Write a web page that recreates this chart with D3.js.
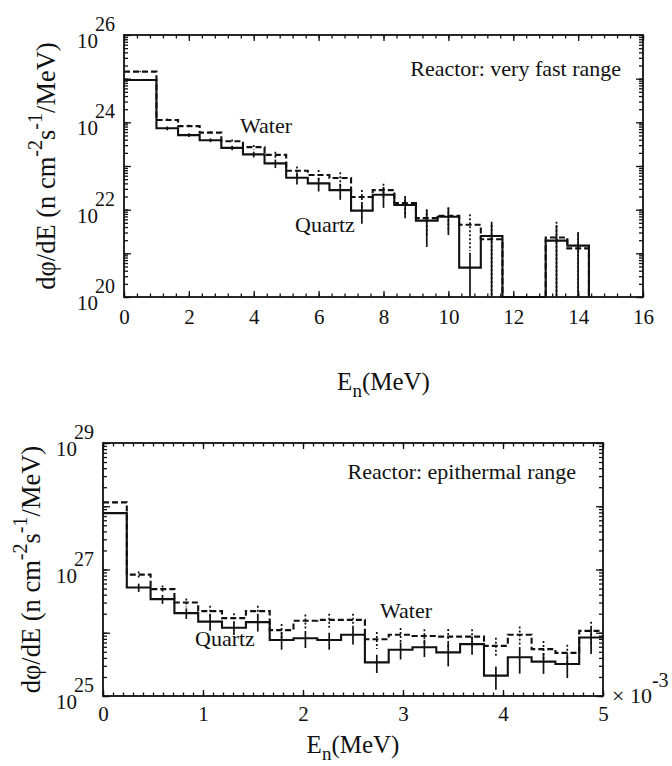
<!DOCTYPE html>
<html>
<head>
<meta charset="utf-8">
<script src="https://cdn.jsdelivr.net/npm/d3@7"></script>
<style>
  body { margin: 0; background: #fff; }
  svg text { font-family: "Liberation Serif", "Times New Roman", serif; fill: #111; }
</style>
</head>
<body>
<svg></svg>
<script>
// ---- very fast range (MeV) ----
const fastEdges = [0, 1, 1.667, 2.333, 3, 3.667, 4.333, 5, 5.667, 6.333, 7, 7.667,
  8.333, 9, 9.667, 10.333, 11, 11.667, 13, 13.667, 14.333];
const fastQuartz = [9.3e24, 7.3e23, 5.1e23, 3.9e23, 2.6e23, 1.85e23, 1.15e23, 5.4e22,
  4.0e22, 2.8e22, 9.5e21, 2.2e22, 1.28e22, 5.6e21, 6.9e21, 4.7e20, 2.5e21, null, 1.95e21, 1.5e21];
const fastWater = [1.45e25, 1.13e24, 8.2e23, 5.8e23, 3.7e23, 2.7e23, 1.8e23, 7.8e22,
  6.2e22, 5.3e22, 1.95e22, 2.8e22, 1.42e22, 6.4e21, 7.2e21, 4.5e21, 2.1e21, null, 2.3e21, 1.3e21];
// relative errors (sigma / value)
const fastQuartzErr = [0.04, 0.1, 0.1, 0.1, 0.12, 0.15, 0.22, 0.3, 0.35, 0.4, 0.5, 0.5,
  0.5, 0.75, 0.62, 1.2, 1.12, null, 1.29, 1.06];
const fastWaterErr = [0.03, 0.08, 0.08, 0.08, 0.1, 0.12, 0.18, 0.25, 0.3, 0.35, 0.45, 0.4,
  0.45, 0.6, 0.55, 0.75, 1.1, null, 1.3, 1.1];
const fastXMajor = [0, 2, 4, 6, 8, 10, 12, 14, 16];
const fastYLabels = [1e20, 1e22, 1e24, 1e26];

// ---- epithermal range (x 10^-3 MeV) ----
const epiEdges = [0, 0.238, 0.476, 0.714, 0.952, 1.19, 1.429, 1.667, 1.905, 2.143, 2.381,
  2.619, 2.857, 3.095, 3.333, 3.571, 3.81, 4.048, 4.286, 4.524, 4.762, 5];
const epiQuartz = [7.8e27, 5.2e26, 3.4e26, 2.04e26, 1.5e26, 1.2e26, 1.47e26, 7.7e25, 8.2e25,
  7.7e25, 9.3e25, 3.4e25, 5.4e25, 5.9e25, 4.9e25, 6.6e25, 2.1e25, 4.1e25, 3.5e25, 3.2e25, 8.4e25];
const epiWater = [1.15e28, 8.3e26, 4.9e26, 3.0e26, 2.2e26, 1.7e26, 2.2e26, 1.1e26, 1.55e26,
  1.6e26, 1.6e26, 7.9e25, 9.3e25, 8.9e25, 8.7e25, 8.7e25, 6.2e25, 9.3e25, 5.5e25, 4.8e25, 1.07e26];
const epiQuartzErr = [0.03, 0.15, 0.16, 0.19, 0.28, 0.23, 0.29, 0.3, 0.3, 0.3, 0.3, 0.32,
  0.3, 0.3, 0.4, 0.32, 0.4, 0.45, 0.36, 0.4, 0.45];
const epiWaterErr = [0.03, 0.12, 0.14, 0.16, 0.22, 0.2, 0.22, 0.25, 0.25, 0.25, 0.25, 0.3,
  0.28, 0.28, 0.32, 0.3, 0.35, 0.35, 0.35, 0.35, 0.4];
const epiXMajor = [0, 1, 2, 3, 4, 5];
const epiYLabels = [1e25, 1e27, 1e29];

const svg = d3.select("svg").attr("width", 672).attr("height", 766);

const drawPanel = (p) => {
  const w = p.width, h = p.height;
  const g = svg.append("g").attr("transform", `translate(${p.left}, ${p.top})`);

  const x = d3.scaleLinear().domain(p.xDomain).range([0, w]);
  const y = d3.scaleLog().domain(p.yDomain).range([h, 0]).clamp(true);
  const floor = p.yDomain[0];

  // ticks, all pointing inwards
  const xMinor = d3.range(p.xDomain[0], p.xDomain[1] + 1e-9, p.xMinorStep);
  const yMinor = y.ticks();
  const yDecades = yMinor.filter((d) => Math.abs(Math.log10(d) - Math.round(Math.log10(d))) < 1e-6);

  const addAxis = (axis, tr) => {
    const a = g.append("g").attr("transform", tr).call(axis);
    a.select(".domain").remove();
    a.selectAll("line").attr("stroke", "#111").attr("stroke-width", 1.3);
    return a;
  };
  addAxis(d3.axisBottom(x).tickValues(xMinor).tickSize(-3.5).tickFormat(""), `translate(0, ${h})`);
  addAxis(d3.axisTop(x).tickValues(xMinor).tickSize(-3.5).tickFormat(""), "translate(0, 0)");
  addAxis(d3.axisTop(x).tickValues(p.xMajor).tickSize(-6).tickFormat(""), "translate(0, 0)");
  const xa = addAxis(d3.axisBottom(x).tickValues(p.xMajor).tickSize(-6).tickPadding(p.xLabelPad)
    .tickFormat(d3.format("d")), `translate(0, ${h})`);
  xa.selectAll("text").attr("font-size", 21).attr("fill", "#111")
    .style("font-family", '"Liberation Serif", serif');

  addAxis(d3.axisLeft(y).tickValues(yMinor).tickSize(-4).tickFormat(""), "translate(0, 0)");
  addAxis(d3.axisLeft(y).tickValues(yDecades).tickSize(-7).tickFormat(""), "translate(0, 0)");
  addAxis(d3.axisRight(y).tickValues(yMinor).tickSize(-4).tickFormat(""), `translate(${w}, 0)`);
  addAxis(d3.axisRight(y).tickValues(yDecades).tickSize(-7).tickFormat(""), `translate(${w}, 0)`);

  // y labels 10^n
  const yl = g.selectAll(".ylab").data(p.yLabels).join("g").attr("class", "ylab");
  yl.append("text").attr("x", -26).attr("y", (d) => y(d) + 13)
    .attr("text-anchor", "end").attr("font-size", 21).text("10");
  yl.append("text").attr("x", -29).attr("y", (d) => y(d) - 4)
    .attr("font-size", 20).text((d) => Math.round(Math.log10(d)));

  // frame
  g.append("rect").attr("width", w).attr("height", h)
    .attr("fill", "none").attr("stroke", "#111").attr("stroke-width", 1.8);

  // histograms
  const stepLine = d3.line()
    .x((d) => x(d[0]))
    .y((d) => y(d[1] == null ? floor : d[1]))
    .curve(d3.curveStepAfter);

  const series = [
    { vals: p.water, err: p.waterErr, dash: "6,3", bar: "2,2" },
    { vals: p.quartz, err: p.quartzErr, dash: null, bar: null },
  ];

  series.forEach((s) => {
    const pts = s.vals.map((v, i) => [p.edges[i], v]);
    const last = s.vals.length;
    pts.push([p.edges[last], s.vals[last - 1]]);
    if (p.dropEnd) pts.push([p.edges[last], null]);

    g.append("path").attr("d", stepLine(pts))
      .attr("fill", "none").attr("stroke", "#111").attr("stroke-width", 2.1)
      .attr("stroke-dasharray", s.dash);

    const bars = s.vals.map((v, i) => ({ v, r: s.err[i], xm: (p.edges[i] + p.edges[i + 1]) / 2 }))
      .filter((d) => d.v != null);
    g.append("g").selectAll("line").data(bars).join("line")
      .attr("x1", (d) => x(d.xm)).attr("x2", (d) => x(d.xm))
      .attr("y1", (d) => y(d.v * (1 + d.r)))
      .attr("y2", (d) => y(d.r >= 1 ? floor : d.v * (1 - d.r)))
      .attr("stroke", "#111").attr("stroke-width", 1.7)
      .attr("stroke-dasharray", s.bar);
  });

  // annotations
  p.notes.forEach((n) => {
    g.append("text").attr("x", n.x).attr("y", n.y).attr("font-size", 22)
      .attr("text-anchor", n.anchor || "start").text(n.text);
  });

  // x title
  const xt = g.append("text").attr("x", w / 2).attr("y", h + p.xTitleOff)
    .attr("text-anchor", "middle").attr("font-size", 25);
  xt.append("tspan").text("E");
  xt.append("tspan").attr("font-size", 19).attr("dy", 7).text("n");
  xt.append("tspan").attr("dy", -7).text("(MeV)");

  // y title
  const yt = g.append("text")
    .attr("transform", `translate(${p.yTitleX}, ${h / 2}) rotate(-90)`)
    .attr("text-anchor", "middle").attr("font-size", 26.5);
  yt.append("tspan").text("d\u03c6/dE (n cm");
  yt.append("tspan").attr("font-size", 20).attr("dy", -13).text("-2");
  yt.append("tspan").attr("dy", 13).text("s");
  yt.append("tspan").attr("font-size", 20).attr("dy", -13).text("-1");
  yt.append("tspan").attr("dy", 13).text("/MeV)");

  return g;
};

drawPanel({
  left: 124, top: 35, width: 519, height: 262,
  xDomain: [0, 16], yDomain: [1e20, 1e26], xMinorStep: 0.4,
  xMajor: fastXMajor, yLabels: fastYLabels, xLabelPad: 12,
  edges: fastEdges, quartz: fastQuartz, water: fastWater,
  quartzErr: fastQuartzErr, waterErr: fastWaterErr, dropEnd: true,
  xTitleOff: 93, yTitleX: -69,
  notes: [
    { text: "Reactor: very fast range", x: 497, y: 41, anchor: "end" },
    { text: "Water", x: 116, y: 98 },
    { text: "Quartz", x: 171, y: 197 },
  ],
});

const epi = drawPanel({
  left: 103, top: 443, width: 500, height: 253,
  xDomain: [0, 5], yDomain: [1e25, 1e29], xMinorStep: 0.1,
  xMajor: epiXMajor, yLabels: epiYLabels, xLabelPad: 10,
  edges: epiEdges, quartz: epiQuartz, water: epiWater,
  quartzErr: epiQuartzErr, waterErr: epiWaterErr, dropEnd: false,
  xTitleOff: 57, yTitleX: -63,
  notes: [
    { text: "Reactor: epithermal range", x: 473, y: 36, anchor: "end" },
    { text: "Water", x: 277, y: 175 },
    { text: "Quartz", x: 92, y: 203 },
  ],
});

// x 10^-3 multiplier
const mult = epi.append("text").attr("x", 509).attr("y", 260).attr("font-size", 22);
mult.append("tspan").text("\u00d7 10");
mult.append("tspan").attr("font-size", 20).attr("dy", -16).text("-3");
</script>
</body>
</html>
